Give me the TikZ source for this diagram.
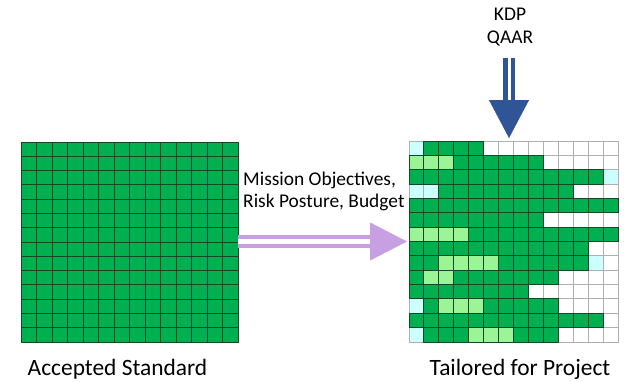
\documentclass[tikz,border=0pt]{standalone}
\usepackage{fontspec}
\setmainfont{Carlito}
\usetikzlibrary{arrows.meta}

\definecolor{dkgreen}{RGB}{0,176,80}
\definecolor{ltgreen}{RGB}{155,245,150}
\definecolor{pcyan}{RGB}{204,255,255}
\definecolor{gridedge}{RGB}{20,70,40}
\definecolor{gridgray}{RGB}{175,175,175}
\definecolor{lavender}{RGB}{200,160,225}
\definecolor{kdpblue}{RGB}{47,85,151}

\tikzset{
  gd/.style={fill=dkgreen},
  gl/.style={fill=ltgreen},
  cy/.style={fill=pcyan},
  wt/.style={fill=white},
  frame/.style={inner sep=0pt, anchor=north west},
  lbl/.style={font=\fontsize{19.5}{22.5}\selectfont, inner sep=0pt},
  gridcaption/.style={font=\fontsize{23.5}{26}\selectfont, inner sep=0pt, anchor=base},
  pshaft/.style={draw=lavender, line width=4bp, double=white, double distance=5bp},
  phead/.style={draw=lavender, fill=lavender, -{Triangle[length=37bp,width=38bp]}},
  bshaft/.style={draw=kdpblue, line width=4.5bp, double=white, double distance=3bp},
  bhead/.style={draw=kdpblue, fill=kdpblue, -{Triangle[length=38bp,width=40bp]}},
}

% cells of the tailored grid, row by row
\newcommand\tailrows{
  {cy,gd,gd,gd,gd,wt,wt,wt,wt,wt,wt,wt,wt,wt},
  {gl,gl,gl,gd,gd,gd,gd,gd,gd,wt,wt,wt,wt,wt},
  {gd,gd,gd,gd,gd,gd,gd,gd,gd,gd,gd,gd,gd,cy},
  {cy,cy,gd,gd,gd,gd,gd,gd,gd,gd,gd,wt,wt,wt},
  {gd,gd,gd,gd,gd,gd,gd,gd,gd,gd,gd,gd,gd,gd},
  {gd,gd,gd,gd,gd,gd,gd,gd,gd,wt,wt,wt,wt,wt},
  {gl,gl,gl,gl,gd,gd,gd,gd,gd,gd,gd,gd,gd,gd},
  {gd,gd,gd,gd,gd,gd,gd,gd,gd,gd,gd,gd,wt,wt},
  {gd,gd,gl,gl,gl,gl,gd,gd,gd,gd,gd,gd,cy,wt},
  {gd,gl,gl,gd,gd,gd,gd,gd,gd,gd,wt,wt,wt,wt},
  {gd,gd,gd,gd,gd,gd,gd,gd,wt,wt,wt,wt,wt,wt},
  {cy,gd,gl,gl,gl,gd,gd,gd,gd,gd,wt,wt,wt,wt},
  {gd,gd,gd,gd,gd,gd,gd,gd,gd,gd,gd,gd,gd,wt},
  {cy,gd,gd,gd,gl,gl,gl,gd,gd,gd,wt,wt,wt,wt}}

\begin{document}
\begin{tikzpicture}[x=1bp,y=-1bp]
  \useasboundingbox (0,0) rectangle (632,381);

  % accepted standard grid
  \foreach \r in {0,...,13}
    \foreach \c in {0,...,13}
      \path[fill=dkgreen, draw=gridedge, line width=1bp]
        ({21+\c*15.5},{142+\r*14.29}) rectangle ++(15.5,14.29);

  % tailored grid: fills first, then dark edges round the green cells
  \foreach \row [count=\r] in \tailrows
    \foreach \s [count=\c] in \row
      \path[draw=gridgray, line width=1bp, \s]
        ({409+(\c-1)*14.93},{141+(\r-1)*14.36}) rectangle ++(14.93,14.36);
  \begin{scope}[gd/.style={draw=gridedge}, gl/.style={draw=gridedge},
                cy/.style={}, wt/.style={}]
    \foreach \row [count=\r] in \tailrows
      \foreach \s [count=\c] in \row
        \path[line width=1bp, \s]
          ({409+(\c-1)*14.93},{141+(\r-1)*14.36}) rectangle ++(14.93,14.36);
  \end{scope}

  \node[frame, minimum width=217bp, minimum height=200bp] (standard) at (21,142) {};
  \node[frame, minimum width=209bp, minimum height=201bp] (tailored) at (409,141) {};

  % labels
  \node[lbl, align=left, anchor=north west] (drivers) at (243,171.5)
    {Mission Objectives,\\Risk Posture, Budget};
  \node[lbl, align=center, anchor=north] (kdp) at (510,8) {KDP\\QAAR};
  \node[gridcaption] (stdlbl) at (117.5,375) {Accepted Standard};
  \node[gridcaption] (taillbl) at (520,375) {Tailored for Project};

  % arrows
  \coordinate (pbase) at (370,241.5);
  \draw[pshaft] (standard.east |- pbase) -- (pbase);
  \draw[phead, shorten >=2bp] (pbase) -- (tailored.west |- pbase);

  \coordinate (btop) at (509,58);
  \coordinate (bbase) at (509,100);
  \draw[bshaft] (btop) -- (bbase);
  \draw[bhead, shorten >=3bp] (bbase) -- (tailored.north -| bbase);

\end{tikzpicture}
\end{document}
